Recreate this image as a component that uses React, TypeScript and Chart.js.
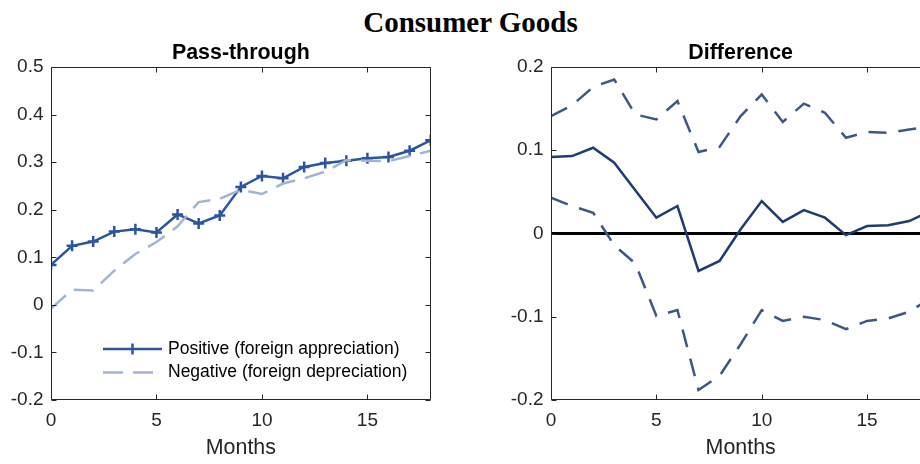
import React, { useEffect, useRef } from 'react';
import { Chart, registerables } from 'chart.js';

Chart.register(...registerables);

// ---------- data ----------
const months = [0, 1, 2, 3, 4, 5, 6, 7, 8, 9, 10, 11, 12, 13, 14, 15, 16, 17, 18];
const positive = [0.084, 0.124, 0.133, 0.154, 0.159, 0.152, 0.19, 0.171, 0.188, 0.248, 0.271, 0.266, 0.29, 0.298, 0.303, 0.308, 0.311, 0.324, 0.346];
const negative = [-0.008, 0.032, 0.03, 0.072, 0.107, 0.132, 0.165, 0.216, 0.223, 0.242, 0.233, 0.255, 0.266, 0.28, 0.304, 0.303, 0.302, 0.313, 0.324];
const difference = [0.092, 0.093, 0.103, 0.085, 0.052, 0.019, 0.033, -0.045, -0.033, 0.005, 0.039, 0.014, 0.028, 0.019, -0.002, 0.009, 0.01, 0.015, 0.027];
const diffUpper = [0.141, 0.154, 0.176, 0.185, 0.143, 0.137, 0.159, 0.098, 0.104, 0.141, 0.167, 0.134, 0.156, 0.145, 0.115, 0.122, 0.121, 0.125, 0.128];
const diffLower = [0.043, 0.033, 0.025, -0.014, -0.036, -0.099, -0.092, -0.188, -0.171, -0.133, -0.092, -0.105, -0.1, -0.104, -0.115, -0.105, -0.102, -0.094, -0.078];

const xTicks = [0, 5, 10, 15];
const leftYTicks = [-0.2, -0.1, 0, 0.1, 0.2, 0.3, 0.4, 0.5];
const rightYTicks = [-0.2, -0.1, 0, 0.1, 0.2];

const mainTitle = 'Consumer Goods';
const leftTitle = 'Pass-through';
const rightTitle = 'Difference';
const xLabel = 'Months';
const legendLabels = ['Positive (foreign appreciation)', 'Negative (foreign depreciation)'];

// ---------- styles ----------
const AXIS = '#262626';
const FONT = '"Liberation Sans", Arial, sans-serif';
const TICK_PX = 19;
const LEGEND_PX = 17.5;
const LABEL_PX = 21.4;
const POS_COLOR = '#2b55a1';
const NEG_COLOR = '#a2b4d3';
const DIFF_COLOR = '#1d3c74';
const BAND_COLOR = '#3d5882';

const fmt = (v: number) => (v === 0 ? '0' : v.toFixed(1));

const boxPlugin = {
  id: 'matlabBox',
  afterDatasetsDraw(chart: any) {
    const { ctx, chartArea: a, scales } = chart;
    const xs = scales.x;
    const ys = scales.y;
    const l = Math.round(a.left) + 0.5;
    const r = Math.round(a.right) - 0.5;
    const t = Math.round(a.top) + 0.5;
    const b = Math.round(a.bottom) - 0.5;
    ctx.save();
    ctx.strokeStyle = AXIS;
    ctx.lineWidth = 1;
    ctx.beginPath();
    ctx.rect(l, t, r - l, b - t);
    const tl = 5;
    xs.ticks.forEach((tk: any) => {
      const px = Math.round(xs.getPixelForValue(tk.value)) + 0.5;
      ctx.moveTo(px, b);
      ctx.lineTo(px, b - tl);
      ctx.moveTo(px, t);
      ctx.lineTo(px, t + tl);
    });
    ys.ticks.forEach((tk: any) => {
      const py = Math.round(ys.getPixelForValue(tk.value)) + 0.5;
      ctx.moveTo(l, py);
      ctx.lineTo(l + tl, py);
      ctx.moveTo(r, py);
      ctx.lineTo(r - tl, py);
    });
    ctx.stroke();
    ctx.restore();
  },
};

const subTitlePlugin = {
  id: 'subTitle',
  afterDraw(chart: any) {
    const text = chart.options.plugins.subTitle?.text;
    if (!text) return;
    const { ctx, chartArea: a } = chart;
    ctx.save();
    ctx.font = `bold ${LABEL_PX}px ${FONT}`;
    ctx.fillStyle = '#000';
    ctx.textAlign = 'center';
    ctx.textBaseline = 'alphabetic';
    ctx.fillText(text, (a.left + a.right) / 2, a.top - 8.5);
    ctx.restore();
  },
};

const zeroLinePlugin = {
  id: 'zeroLine',
  beforeDatasetsDraw(chart: any) {
    if (!chart.options.plugins.zeroLine?.enabled) return;
    const { ctx, chartArea: a, scales } = chart;
    const py = scales.y.getPixelForValue(0);
    ctx.save();
    ctx.strokeStyle = '#000';
    ctx.lineWidth = 3;
    ctx.beginPath();
    ctx.moveTo(a.left, py);
    ctx.lineTo(a.right, py);
    ctx.stroke();
    ctx.restore();
  },
};

const legendPlugin = {
  id: 'matlabLegend',
  afterDraw(chart: any) {
    if (!chart.options.plugins.matlabLegend?.enabled) return;
    const { ctx, chartArea: a } = chart;
    const x0 = a.left + 52;
    const x1 = a.left + 111;
    const tx = a.left + 117;
    const rows = [a.bottom - 51, a.bottom - 27.5];
    ctx.save();
    ctx.lineWidth = 2.5;
    // row 1
    ctx.strokeStyle = POS_COLOR;
    ctx.setLineDash([]);
    ctx.beginPath();
    ctx.moveTo(x0, rows[0]);
    ctx.lineTo(x1, rows[0]);
    const cx = (x0 + x1) / 2;
    ctx.moveTo(cx - 5.5, rows[0]);
    ctx.lineTo(cx + 5.5, rows[0]);
    ctx.moveTo(cx, rows[0] - 5.5);
    ctx.lineTo(cx, rows[0] + 5.5);
    ctx.stroke();
    // row 2
    ctx.strokeStyle = NEG_COLOR;
    ctx.setLineDash([20, 10]);
    ctx.beginPath();
    ctx.moveTo(x0, rows[1]);
    ctx.lineTo(x1, rows[1]);
    ctx.stroke();
    ctx.setLineDash([]);
    ctx.font = `${LEGEND_PX}px ${FONT}`;
    ctx.fillStyle = '#000';
    ctx.textAlign = 'left';
    ctx.textBaseline = 'middle';
    ctx.fillText(legendLabels[0], tx, rows[0]);
    ctx.fillText(legendLabels[1], tx, rows[1]);
    ctx.restore();
  },
};

function makeScales(yMin: number, yMax: number, yTicks: number[], yWidth: number) {
  return {
    x: {
      type: 'linear' as const,
      min: 0,
      max: 18,
      afterBuildTicks: (s: any) => {
        s.ticks = xTicks.map((v) => ({ value: v }));
      },
      afterFit: (s: any) => {
        s.height = 64;
      },
      grid: { display: false, drawTicks: false },
      border: { display: false },
      ticks: {
        padding: 9.3,
        color: AXIS,
        font: { family: FONT, size: TICK_PX },
        maxRotation: 0,
        callback: (v: any) => String(v),
      },
      title: {
        display: true,
        text: xLabel,
        color: AXIS,
        font: { family: FONT, size: LABEL_PX },
        padding: { top: 0, bottom: 2.6 },
      },
    },
    y: {
      type: 'linear' as const,
      min: yMin,
      max: yMax,
      afterBuildTicks: (s: any) => {
        s.ticks = yTicks.map((v) => ({ value: v }));
      },
      afterFit: (s: any) => {
        s.width = yWidth;
      },
      grid: { display: false, drawTicks: false },
      border: { display: false },
      ticks: {
        padding: 7.5,
        color: AXIS,
        font: { family: FONT, size: TICK_PX },
        callback: (v: any) => fmt(Number(v)),
      },
    },
  };
}

const pts = (ys: number[]) => months.map((m, i) => ({ x: m, y: ys[i] }));

export default function App() {
  const leftRef = useRef<HTMLCanvasElement>(null);
  const rightRef = useRef<HTMLCanvasElement>(null);

  useEffect(() => {
    document.documentElement.style.overflow = 'hidden';
    const left = new Chart(leftRef.current!, {
      type: 'line',
      data: {
        datasets: [
          {
            label: legendLabels[1],
            data: pts(negative),
            borderColor: NEG_COLOR,
            borderWidth: 2.5,
            borderDash: [20, 10],
            pointRadius: 0,
            tension: 0,
            fill: false,
          },
          {
            label: legendLabels[0],
            data: pts(positive),
            borderColor: POS_COLOR,
            borderWidth: 2.5,
            pointStyle: 'cross',
            pointRadius: 5.5,
            pointBorderWidth: 2.5,
            pointBorderColor: POS_COLOR,
            pointBackgroundColor: POS_COLOR,
            tension: 0,
            fill: false,
          },
        ],
      },
      options: {
        responsive: false,
        animation: false,
        devicePixelRatio: 1,
        layout: { padding: { left: 0, right: 39.3, top: 67, bottom: 0 } },
        scales: makeScales(-0.2, 0.5, leftYTicks, 51),
        plugins: {
          legend: { display: false },
          tooltip: { enabled: false },
          subTitle: { text: leftTitle },
          matlabLegend: { enabled: true },
        } as any,
      },
      plugins: [boxPlugin, subTitlePlugin, legendPlugin],
    });

    const right = new Chart(rightRef.current!, {
      type: 'line',
      data: {
        datasets: [
          {
            label: 'Upper',
            data: pts(diffUpper),
            borderColor: BAND_COLOR,
            borderWidth: 2.5,
            borderDash: [18, 12],
            pointRadius: 0,
            tension: 0,
            fill: false,
          },
          {
            label: 'Lower',
            data: pts(diffLower),
            borderColor: BAND_COLOR,
            borderWidth: 2.5,
            borderDash: [18, 12],
            pointRadius: 0,
            tension: 0,
            fill: false,
          },
          {
            label: rightTitle,
            data: pts(difference),
            borderColor: DIFF_COLOR,
            borderWidth: 2.5,
            pointRadius: 0,
            tension: 0,
            fill: false,
          },
        ],
      },
      options: {
        responsive: false,
        animation: false,
        devicePixelRatio: 1,
        layout: { padding: { left: 0, right: 9.7, top: 67, bottom: 0 } },
        scales: makeScales(-0.2, 0.2, rightYTicks, 81),
        plugins: {
          legend: { display: false },
          tooltip: { enabled: false },
          subTitle: { text: rightTitle },
          zeroLine: { enabled: true },
        } as any,
      },
      plugins: [boxPlugin, subTitlePlugin, zeroLinePlugin],
    });

    return () => {
      left.destroy();
      right.destroy();
    };
  }, []);

  return (
    <div
      style={{
        position: 'fixed',
        left: 0,
        top: 0,
        width: 940,
        height: 464,
        background: '#fff',
        overflow: 'hidden',
      }}
    >
      <div
        style={{
          position: 'absolute',
          left: 0,
          top: 8,
          width: 941,
          textAlign: 'center',
          font: 'bold 29px "Liberation Serif", "Times New Roman", serif',
          lineHeight: '29px',
          color: '#000',
          whiteSpace: 'nowrap',
        }}
      >
        {mainTitle}
      </div>
      <canvas
        ref={leftRef}
        width={470}
        height={464}
        style={{ position: 'absolute', left: 0, top: 0, width: 470, height: 464 }}
      />
      <canvas
        ref={rightRef}
        width={470}
        height={464}
        style={{ position: 'absolute', left: 470, top: 0, width: 470, height: 464 }}
      />
    </div>
  );
}
